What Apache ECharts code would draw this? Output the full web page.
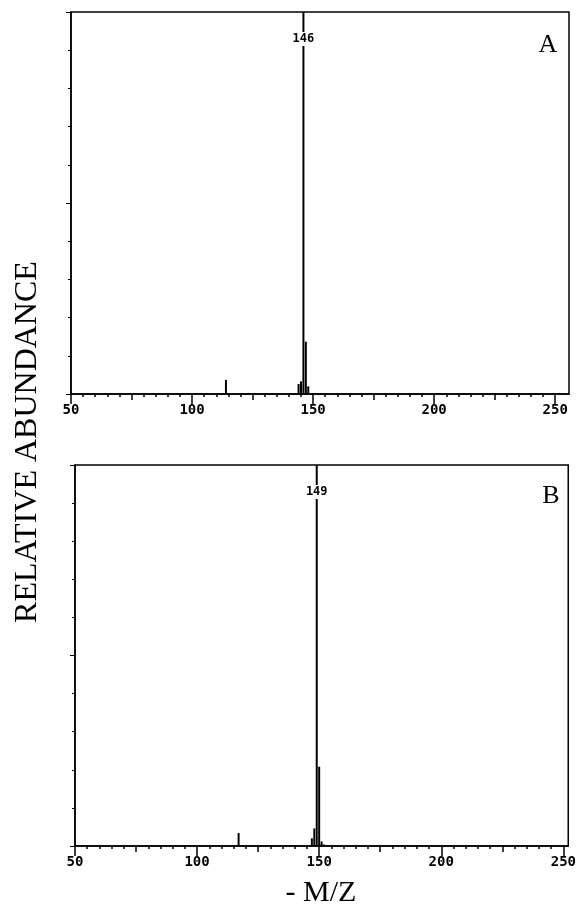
<!DOCTYPE html>
<html>
<head>
<meta charset="utf-8">
<script src="https://cdn.jsdelivr.net/npm/echarts@6/dist/echarts.min.js"></script>
<style>
  html, body { margin: 0; padding: 0; background: #fff; }
  #chart { width: 579px; height: 914px; }
</style>
</head>
<body>
<div id="chart"></div>
<script>
// panel A spectrum
const mzA = [114, 144, 145, 146, 147, 148];
const abA = [3.7, 2.6, 3.3, 100, 13.7, 2.0];
// panel B spectrum
const mzB = [117, 147, 148, 149, 150, 151, 152];
const abB = [3.4, 2.0, 4.6, 100, 20.8, 1.2, 0.4];
// base peak labels
const baseA = 146;
const baseB = 149;
// x tick labels
const majorTicks = [50, 100, 150, 200, 250];

const midTicks = [75, 125, 175, 225];
const minorTicks = [];
for (let v = 50; v <= 250; v += 5) minorTicks.push(v);

const tickFont = {
  fontFamily: 'DejaVu Sans Mono',
  fontWeight: 'bold',
  fontSize: 14,
  color: '#000'
};

const lineStyle = { color: '#000', width: 1.5 };

const grids = [
  { left: 71, right: 10, top: 12, bottom: 520 },
  { left: 75, right: 8, top: 465, bottom: 68 }
];
const xMax = [255.7, 252];

const xAxis = [];
const yAxis = [];
grids.forEach((g, i) => {
  const base = { type: 'value', gridIndex: i, min: 50, max: xMax[i], position: 'bottom', splitLine: { show: false } };
  xAxis.push(Object.assign({}, base, {
    axisLine: { lineStyle },
    axisTick: { customValues: majorTicks, length: 10, lineStyle },
    axisLabel: Object.assign({ customValues: majorTicks, margin: 9 }, tickFont)
  }));
  xAxis.push(Object.assign({}, base, {
    axisLine: { show: false },
    axisTick: { customValues: midTicks, length: 6, lineStyle },
    axisLabel: { show: false }
  }));
  xAxis.push(Object.assign({}, base, {
    axisLine: { show: false },
    axisTick: { customValues: minorTicks, length: 3, lineStyle },
    axisLabel: { show: false }
  }));
  yAxis.push({
    type: 'value', gridIndex: i, min: 0, max: 100, interval: 10, position: 'left',
    axisLine: { show: true, lineStyle },
    axisTick: { show: true, length: 3, lineStyle: { color: '#000', width: 1 } },
    axisLabel: { show: false },
    splitLine: { show: false }
  });
  yAxis.push({
    type: 'value', gridIndex: i, min: 0, max: 100, interval: 50, position: 'left',
    axisLine: { show: false },
    axisTick: { show: true, length: 5, lineStyle: { color: '#000', width: 1 } },
    axisLabel: { show: false },
    splitLine: { show: false }
  });
});

function peaks(mz, ab, base) {
  return mz.map((m, k) => {
    const item = { value: [m, ab[k]] };
    if (m === base) {
      item.label = {
        show: true,
        position: 'insideTop',
        distance: 20,
        formatter: String(base),
        backgroundColor: '#fff',
        padding: [1, 0],
        fontFamily: 'DejaVu Sans Mono',
        fontWeight: 'bold',
        fontSize: 12,
        color: '#000'
      };
    }
    return item;
  });
}

const option = {
  backgroundColor: '#fff',
  animation: false,
  grid: grids.map(g => Object.assign({ show: true, borderColor: '#000', borderWidth: 1.5, backgroundColor: 'transparent' }, g)),
  xAxis: xAxis,
  yAxis: yAxis,
  series: [
    {
      type: 'bar', xAxisIndex: 0, yAxisIndex: 0, barWidth: 2,
      itemStyle: { color: '#000' },
      data: peaks(mzA, abA, baseA)
    },
    {
      type: 'bar', xAxisIndex: 3, yAxisIndex: 2, barWidth: 2,
      itemStyle: { color: '#000' },
      data: peaks(mzB, abB, baseB)
    }
  ],
  graphic: [
    {
      type: 'text', x: 28, y: 442, rotation: Math.PI / 2,
      style: { text: 'RELATIVE ABUNDANCE', font: '32px "Liberation Serif"', fill: '#000', align: 'center', verticalAlign: 'middle' }
    },
    {
      type: 'text', x: 321, y: 893,
      style: { text: '- M/Z', font: '30px "Liberation Serif"', fill: '#000', align: 'center', verticalAlign: 'middle' }
    },
    {
      type: 'text', x: 548, y: 45,
      style: { text: 'A', font: '26px "Liberation Serif"', fill: '#000', align: 'center', verticalAlign: 'middle' }
    },
    {
      type: 'text', x: 551, y: 496,
      style: { text: 'B', font: '26px "Liberation Serif"', fill: '#000', align: 'center', verticalAlign: 'middle' }
    }
  ]
};

const myChart = echarts.init(document.getElementById('chart'));
myChart.setOption(option);
</script>
</body>
</html>
